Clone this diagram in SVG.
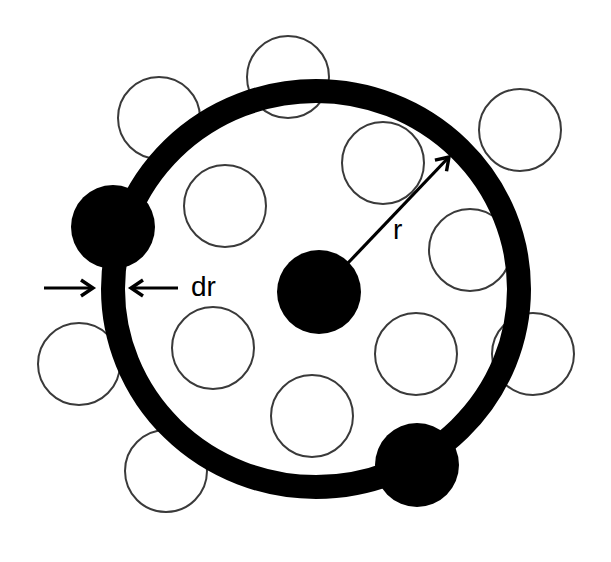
<svg xmlns="http://www.w3.org/2000/svg" width="611" height="562" viewBox="0 0 611 562">
  <style>
    .open { fill: none; stroke: #3a3a3a; stroke-width: 2; }
    .solid { fill: #000; stroke: none; }
    .ring { fill: none; stroke: #000; stroke-width: 24; }
    .arrow { fill: none; stroke: #000; stroke-width: 3.2; marker-end: url(#head); }
    .label { font-family: "Liberation Sans", Arial, sans-serif; font-size: 28px; fill: #000; }
  </style>
  <defs>
    <marker id="head" markerUnits="userSpaceOnUse" markerWidth="22" markerHeight="22" refX="16" refY="11" orient="auto">
      <path d="M4,3 L16,11 L4,19" fill="none" stroke="#000" stroke-width="3.4" stroke-linejoin="miter"/>
    </marker>
  </defs>
  <rect width="611" height="562" fill="#fff"/>

  <g id="particles-open">
    <g id="p1"><circle class="open" cx="288" cy="77" r="41"/></g>
    <g id="p2"><circle class="open" cx="159" cy="118" r="41"/></g>
    <g id="p3"><circle class="open" cx="520" cy="130" r="41"/></g>
    <g id="p4"><circle class="open" cx="383" cy="163" r="41"/></g>
    <g id="p5"><circle class="open" cx="225" cy="206" r="41"/></g>
    <g id="p6"><circle class="open" cx="470" cy="250" r="41"/></g>
    <g id="p7"><circle class="open" cx="79" cy="364" r="41"/></g>
    <g id="p8"><circle class="open" cx="213" cy="348" r="41"/></g>
    <g id="p9"><circle class="open" cx="416" cy="354" r="41"/></g>
    <g id="p10"><circle class="open" cx="533" cy="354" r="41"/></g>
    <g id="p11"><circle class="open" cx="312" cy="416" r="41"/></g>
    <g id="p12"><circle class="open" cx="166" cy="471" r="41"/></g>
  </g>

  <g id="shell"><ellipse class="ring" cx="316" cy="289" rx="203" ry="198"/></g>

  <g id="particles-solid">
    <g id="center"><circle class="solid" cx="319" cy="292" r="42"/></g>
    <g id="shell-left"><circle class="solid" cx="113" cy="227" r="42"/></g>
    <g id="shell-bottom"><circle class="solid" cx="417" cy="465" r="42"/></g>
  </g>

  <g id="connectors">
    <line class="arrow" x1="348" y1="263" x2="449" y2="157"/>
    <line class="arrow" x1="44" y1="288" x2="93" y2="288"/>
    <line class="arrow" x1="178" y1="288" x2="131" y2="288"/>
  </g>

  <g id="labels">
    <text class="label" x="191" y="296">dr</text>
    <text class="label" x="393" y="239">r</text>
  </g>
</svg>
